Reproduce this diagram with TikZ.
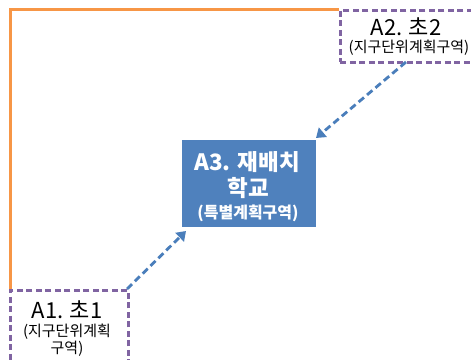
\documentclass[tikz,border=0pt]{standalone}
\usepackage{fontspec}
\setmainfont{Noto Sans CJK KR}
\usetikzlibrary{arrows.meta}
\definecolor{orng}{HTML}{F79646}
\definecolor{purp}{HTML}{8064A2}
\definecolor{blu}{HTML}{4F81BD}
\definecolor{arr}{HTML}{4A7EBB}
\tikzset{
  zone/.style={draw=purp, line width=2.8pt, dash pattern=on 6pt off 3.5pt, fill=white},
  school/.style={fill=blu, draw=none},
  link/.style={draw=arr, line width=2.8pt, dash pattern=on 7pt off 4pt, -{Triangle[length=9pt,width=12pt]}},
  big/.style={font=\fontsize{22}{26}\selectfont},
  small/.style={font=\fontsize{15}{18}\selectfont},
  wbig/.style={text=white, font=\fontsize{22.5}{26}\bfseries\selectfont},
  wsmall/.style={text=white, font=\fontsize{16}{19}\bfseries\selectfont},
}
\begin{document}
\begin{tikzpicture}[x=1pt,y=-1pt]
\useasboundingbox (0,0) rectangle (471,359);
% orange boundary
\coordinate (oc) at (10,9);
\coordinate (ot) at (339,9);
\coordinate (ob) at (10,290);
\draw[orng, line width=3pt] (ob) -- (oc) -- (ot);
% A2 box
\node[zone, minimum width=140pt, minimum height=52pt, anchor=north west] (a2) at (339,9) {};
\node[big] (a2t) at (406,27) {A2. 초2};
\node[small] (a2s) at (409,48) {(지구단위계획구역)};
% A1 box
\node[zone, minimum width=118pt, minimum height=90pt, anchor=north west] (a1) at (9,289) {};
\node[big] (a1t) at (67,310) {A1. 초1};
\node[small] (a1s) at (67,332) {(지구단위계획};
\node[small] (a1s2) at (67,349) {구역)};
% A3 box
\node[school, minimum width=134pt, minimum height=87pt, anchor=north west] (a3) at (182,140) {};
\node[wbig] (a3t) at (247,162) {A3. 재배치};
\node[wbig] (a3t2) at (248,188) {학교};
\node[wsmall] (a3s) at (248,213) {(특별계획구역)};
% arrows
\coordinate (s2) at (406,62);
\coordinate (e2) at (316,138);
\coordinate (s1) at (127,289);
\coordinate (e1) at (186,231);
\draw[link] (s2) -- (e2);
\draw[link] (s1) -- (e1);
\end{tikzpicture}
\end{document}
